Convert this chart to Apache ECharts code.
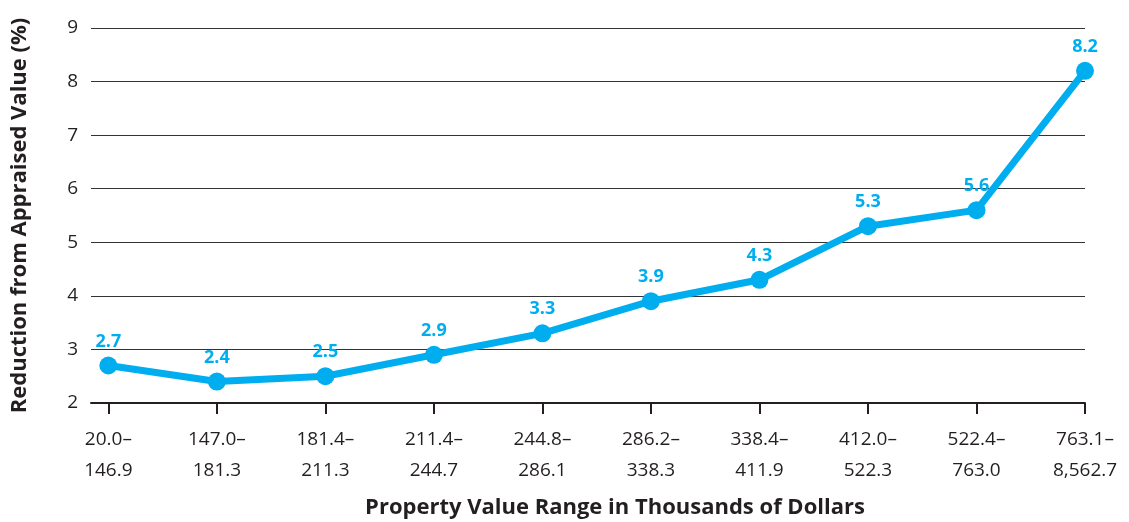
<!DOCTYPE html>
<html>
<head>
<meta charset="utf-8">
<script src="https://cdn.jsdelivr.net/npm/echarts@6/dist/echarts.min.js"></script>
<style>
html, body { margin: 0; padding: 0; background: #fff; }
#chart { width: 1129px; height: 522px; }
</style>
</head>
<body>
<div id="chart"></div>
<script>
// 分类（房产价值区间，千美元）
var categories = ['20.0–\n146.9', '147.0–\n181.3', '181.4–\n211.3', '211.4–\n244.7', '244.8–\n286.1',
	'286.2–\n338.3', '338.4–\n411.9', '412.0–\n522.3', '522.4–\n763.0', '763.1–\n8,562.7'];
// 评估值下降百分比
var reduction = [2.7, 2.4, 2.5, 2.9, 3.3, 3.9, 4.3, 5.3, 5.6, 8.2];
var yTicks = [2, 3, 4, 5, 6, 7, 8, 9];

var myChart = echarts.init(document.getElementById('chart'));
var fontFam = '"Open Sans", sans-serif';
var blue = '#00aeef';

var points = [];
for (var i = 0; i < reduction.length; i++) {
	points.push([i, reduction[i]]);
}
var idx = [];
for (var j = 0; j < categories.length; j++) {
	idx.push(j);
}

option = {
	animation : false,
	grid : {
		left : 91,
		right : 44,
		top : 28,
		bottom : 119,
		containLabel : false,
		outerBoundsMode : 'none'
	},
	xAxis : {
		type : 'value',
		min : -0.16,
		max : categories.length - 1,
		name : 'Property Value Range in Thousands of Dollars',
		nameLocation : 'middle',
		nameGap : 94,
		nameTextStyle : {
			fontFamily : fontFam,
			fontWeight : 'bold',
			fontSize : 22,
			color : '#231f20',
			padding : [0, 0, 0, 54]
		},
		splitLine : { show : false },
		axisLine : {
			lineStyle : { color : '#231f20', width : 2 }
		},
		axisTick : {
			customValues : idx,
			length : 11,
			lineStyle : { color : '#231f20', width : 2 }
		},
		axisLabel : {
			customValues : idx,
			margin : 21,
			fontFamily : fontFam,
			fontSize : 19,
			lineHeight : 31,
			color : '#231f20',
			formatter : function (v) {
				return categories[Math.round(v)];
			}
		}
	},
	yAxis : {
		type : 'value',
		min : yTicks[0],
		max : yTicks[yTicks.length - 1],
		interval : 1,
		name : 'Reduction from Appraised Value (%)',
		nameLocation : 'middle',
		nameGap : 60,
		nameTextStyle : {
			fontFamily : fontFam,
			fontWeight : 'bold',
			fontSize : 22,
			color : '#231f20'
		},
		axisLine : { show : false },
		axisTick : { show : false },
		axisLabel : {
			margin : 13,
			fontFamily : fontFam,
			fontSize : 19,
			color : '#231f20'
		},
		splitLine : {
			lineStyle : { color : '#333', width : 1 }
		}
	},
	series : [ {
		type : 'line',
		data : points,
		symbol : 'circle',
		symbolSize : 18,
		lineStyle : { color : blue, width : 7 },
		itemStyle : { color : blue },
		label : {
			show : true,
			position : 'top',
			distance : 6,
			fontFamily : fontFam,
			fontWeight : 'bold',
			fontSize : 18,
			color : blue,
			formatter : function (p) {
				return p.value[1].toFixed(1);
			}
		}
	} ]
};

myChart.setOption(option);
</script>
</body>
</html>
